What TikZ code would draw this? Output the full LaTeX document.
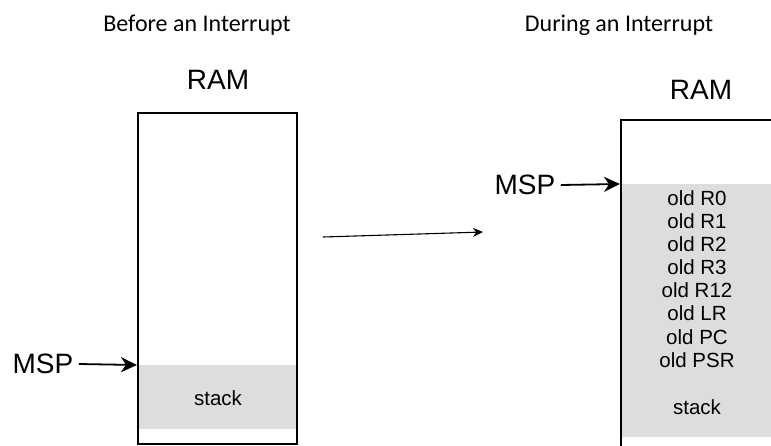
\documentclass[tikz,border=0pt]{standalone}
\usepackage{fontspec}
\setmainfont{Liberation Sans}
\newfontfamily\titlefont{Carlito}
\usetikzlibrary{arrows.meta}
\definecolor{stackgray}{HTML}{DDDDDD}

\tikzset{
  title/.style={font=\titlefont\fontsize{24}{28}\selectfont},
  ramlabel/.style={font=\fontsize{28}{32}\selectfont},
  msplabel/.style={font=\fontsize{28}{30}\selectfont},
  cell/.style={font=\fontsize{20.5}{23.1}\selectfont, align=center},
  mem/.style={line width=1.4pt},
  ptr/.style={line width=1.8pt, -{Stealth[length=16pt,width=15pt,inset=5pt]}}
}

\begin{document}
\begin{tikzpicture}[x=1pt,y=-1pt]
\useasboundingbox (0,0) rectangle (771,445);
% \draw[densely dotted] (0,0) grid[step=50] (771,445);
% before
\node[title] (before) at (197,25) {Before an Interrupt};
\node[ramlabel] (ramA) at (218,80) {RAM};
\fill[stackgray] (139,365) rectangle (296,429);
\draw[mem] (138,113) rectangle (297,444);
\node[cell] (stackA) at (218,398) {stack};
\node[msplabel] (mspA) at (43,364) {MSP};
\coordinate (topA) at (137,365);
\draw[ptr] (mspA.east) ++(2,0) coordinate (tailA) (tailA) -- (topA);
% during
\node[title] (during) at (619,25) {During an Interrupt};
\node[ramlabel] (ramB) at (701,90) {RAM};
\fill[stackgray] (622,184) rectangle (771,437);
\draw[mem] (771,120) -- (621,120) -- (621,446);
\node[cell] (regs) at (697,279) {old R0\\old R1\\old R2\\old R3\\old R12\\old LR\\old PC\\old PSR};
\node[cell] (stackB) at (697,407) {stack};
\node[msplabel] (mspB) at (525,185) {MSP};
\coordinate (topB) at (620,184);
\draw[ptr] (mspB.east) ++(2,0) coordinate (tailB) (tailB) -- (topB);
% transition
\coordinate (from) at (323,237);
\coordinate (to) at (483,232);
\draw[line width=1.1pt, -{Stealth[length=10pt,width=9pt]}] (from) -- (to);
\end{tikzpicture}
\end{document}
